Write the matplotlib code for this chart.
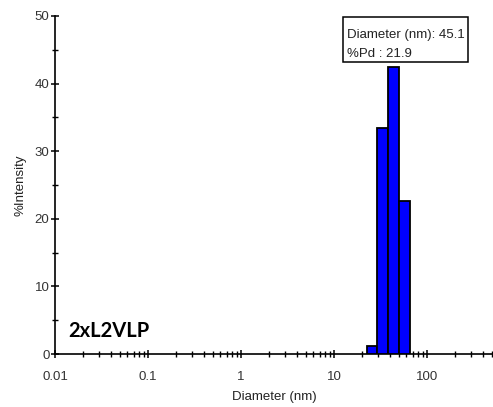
import numpy as np
import matplotlib.pyplot as plt
from matplotlib.patches import Rectangle
from matplotlib.ticker import LogLocator, FixedLocator, NullFormatter

# Size distribution by intensity
bin_edges = [22.5, 29.3, 38.2, 49.8, 65.0]
intensity = [1.2, 33.5, 42.4, 22.6]
x_ticks = [0.01, 0.1, 1, 10, 100]
x_ticklabels = ["0.01", "0.1", "1", "10", "100"]
y_ticks = [0, 10, 20, 30, 40, 50]
z_avg = 45.1
pdi = 21.9
sample = "2xL2VLP"

plt.rcParams['font.family'] = ['Liberation Sans', 'DejaVu Sans']

fig = plt.figure(figsize=(4.93, 4.07), dpi=100)
ax = fig.add_axes([0.1116, 0.1302, 0.8884, 0.8305])

edges = np.array(bin_edges)
ax.bar(edges[:-1], intensity, width=np.diff(edges), align='edge',
       color='#0000ff', edgecolor='black', linewidth=1.3, zorder=3)

ax.set_xscale('log')
ax.set_xlim(0.01, 513)
ax.set_ylim(0, 50)

ax.xaxis.set_major_locator(FixedLocator(x_ticks))
ax.set_xticklabels(x_ticklabels)
ax.xaxis.set_minor_locator(LogLocator(base=10, subs=np.arange(2, 10), numticks=20))
ax.xaxis.set_minor_formatter(NullFormatter())
ax.set_yticks(y_ticks)
ax.set_yticks([5, 15, 25, 35, 45], minor=True)

for s in ['top', 'right']:
    ax.spines[s].set_visible(False)
for s in ['left', 'bottom']:
    ax.spines[s].set_linewidth(1.2)

ax.tick_params(axis='both', which='major', direction='inout', length=6, width=1.1,
               labelsize=9.5, colors='black', labelcolor='#333333')
ax.tick_params(axis='both', which='minor', direction='inout', length=4, width=1.0)
ax.tick_params(axis='x', which='major', pad=9)
ax.tick_params(axis='y', which='major', pad=1)

ax.set_xlabel("Diameter (nm)", fontsize=9.5, labelpad=6, color='#222222')
ax.set_ylabel("%Intensity", fontsize=9.5, labelpad=6, color='#222222')

# result box
fig.patches.append(Rectangle((0.6957, 0.8477), 0.2535, 0.1106, transform=fig.transFigure,
                             facecolor='white', edgecolor='black', linewidth=1.1))
fig.text(0.704, 0.9066, f"Diameter (nm): {z_avg}", fontsize=9.5, va='baseline', color='#222222')
fig.text(0.704, 0.860, f"%Pd : {pdi}", fontsize=9.5, va='baseline', color='#222222')

fig.text(0.138, 0.172, sample, fontsize=14.5, fontweight='bold',
         family=['Lato', 'DejaVu Sans'], va='baseline', ha='left')

fig.savefig("out.png", dpi=100)
